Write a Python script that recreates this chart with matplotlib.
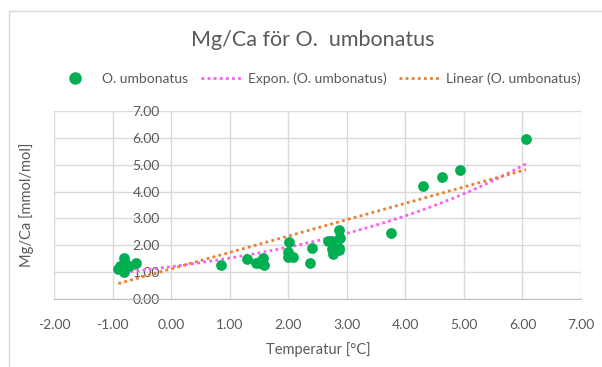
import numpy as np
import matplotlib
matplotlib.use("Agg")
import matplotlib.pyplot as plt
from matplotlib.lines import Line2D
from matplotlib.patches import Rectangle

plt.rcParams['font.family'] = ['Lato', 'DejaVu Sans']

title = "Mg/Ca för O.  umbonatus"
xlabel = "Temperatur [°C]"
ylabel = "Mg/Ca [mmol/mol]"
series_name = "O. umbonatus"

temp = [-0.90, -0.88, -0.85, -0.80, -0.80, -0.78, -0.72, -0.60,
        0.85, 1.29, 1.45, 1.51, 1.53, 1.57, 1.58,
        2.00, 2.02, 1.99, 2.09, 2.37, 2.40,
        2.68, 2.74, 2.75, 2.76, 2.86, 2.87, 2.88, 2.87,
        3.75, 4.30, 4.63, 4.93, 6.06]
mgca = [1.12, 1.25, 1.20, 1.52, 1.03, 1.35, 1.22, 1.33,
        1.27, 1.50, 1.36, 1.34, 1.44, 1.52, 1.27,
        1.74, 2.14, 1.58, 1.58, 1.36, 1.89,
        2.16, 2.16, 1.85, 1.67, 1.90, 2.57, 2.28, 1.83,
        2.47, 4.20, 4.54, 4.81, 5.95]

# trendline coefficients
lin_slope, lin_intercept = 0.608, 1.13        # y = a + b*x
exp_coef, exp_rate = 1.21, 0.235              # y = A*exp(k*x)

xticks = [-2, -1, 0, 1, 2, 3, 4, 5, 6, 7]
yticks = [0, 1, 2, 3, 4, 5, 6, 7]

x = np.array(temp)
y = np.array(mgca)

green = '#00B050'
pink = '#FF5CF0'
orange = '#ED7D31'
txt = '#595959'
grid = '#D9D9D9'

fig = plt.figure(figsize=(6.02, 3.67), dpi=100)
W, H = 602, 367
fig.patches.append(Rectangle((9 / W, -0.05), 1.2, 1 - 11 / H + 0.05, transform=fig.transFigure,
                             fill=False, edgecolor='#D9D9D9', linewidth=1.0))

ax = fig.add_axes([54 / W, (H - 299.3) / H, (581 - 54) / W, (299.3 - 110.7) / H])
ax.set_xlim(-2, 7)
ax.set_ylim(0, 7)
ax.set_xticks(xticks)
ax.set_yticks(yticks)
ax.set_xticklabels([f"{v:.2f}" for v in xticks])
ax.set_yticklabels([f"{v:.2f}" for v in yticks])
ax.grid(True, color=grid, linewidth=1.0)
ax.set_axisbelow(True)
for s in ['top', 'right']:
    ax.spines[s].set_visible(False)
ax.spines['left'].set_position(('data', 0))
ax.spines['left'].set_visible(False)
ax.spines['bottom'].set_color('#BFBFBF')
ax.tick_params(axis='both', length=0, colors=txt, labelsize=10)
ax.tick_params(axis='x', pad=14)
ax.tick_params(axis='y', pad=8)

xs = np.linspace(x.min(), x.max(), 100)
ax.plot(xs, exp_coef * np.exp(exp_rate * xs), linestyle=(0, (1, 1.2)), color=pink, linewidth=2.0, zorder=2)
ax.plot(xs, lin_intercept + lin_slope * xs, linestyle=(0, (1, 1.2)), color=orange, linewidth=2.0, zorder=2)

ax.scatter(x, y, s=60, color=green, zorder=3, linewidths=0)

fig.text(313 / W, 1 - 40 / H, title, ha='center', va='center', fontsize=15.5, color=txt)
fig.text(318 / W, 1 - 350 / H, xlabel, ha='center', va='center', fontsize=10.5, color=txt)
fig.text(27 / W, 1 - 205 / H, ylabel, ha='center', va='center', fontsize=10.5, color=txt, rotation=90)

handles = [Line2D([], [], marker='o', linestyle='none', color=green, markersize=8),
           Line2D([], [], linestyle=(0, (1, 1.2)), color=pink, linewidth=2.0),
           Line2D([], [], linestyle=(0, (1, 1.2)), color=orange, linewidth=2.0)]
labels = [series_name, f"Expon. ({series_name})", f"Linear ({series_name})"]
fig.legend(handles, labels, loc='center', bbox_to_anchor=(318 / W, 1 - 79 / H), ncol=3, frameon=False,
           fontsize=10, labelcolor=txt, handlelength=2.9, handletextpad=0.5, columnspacing=0.9,
           borderpad=0, borderaxespad=0)

fig.savefig('out.png', dpi=100)
